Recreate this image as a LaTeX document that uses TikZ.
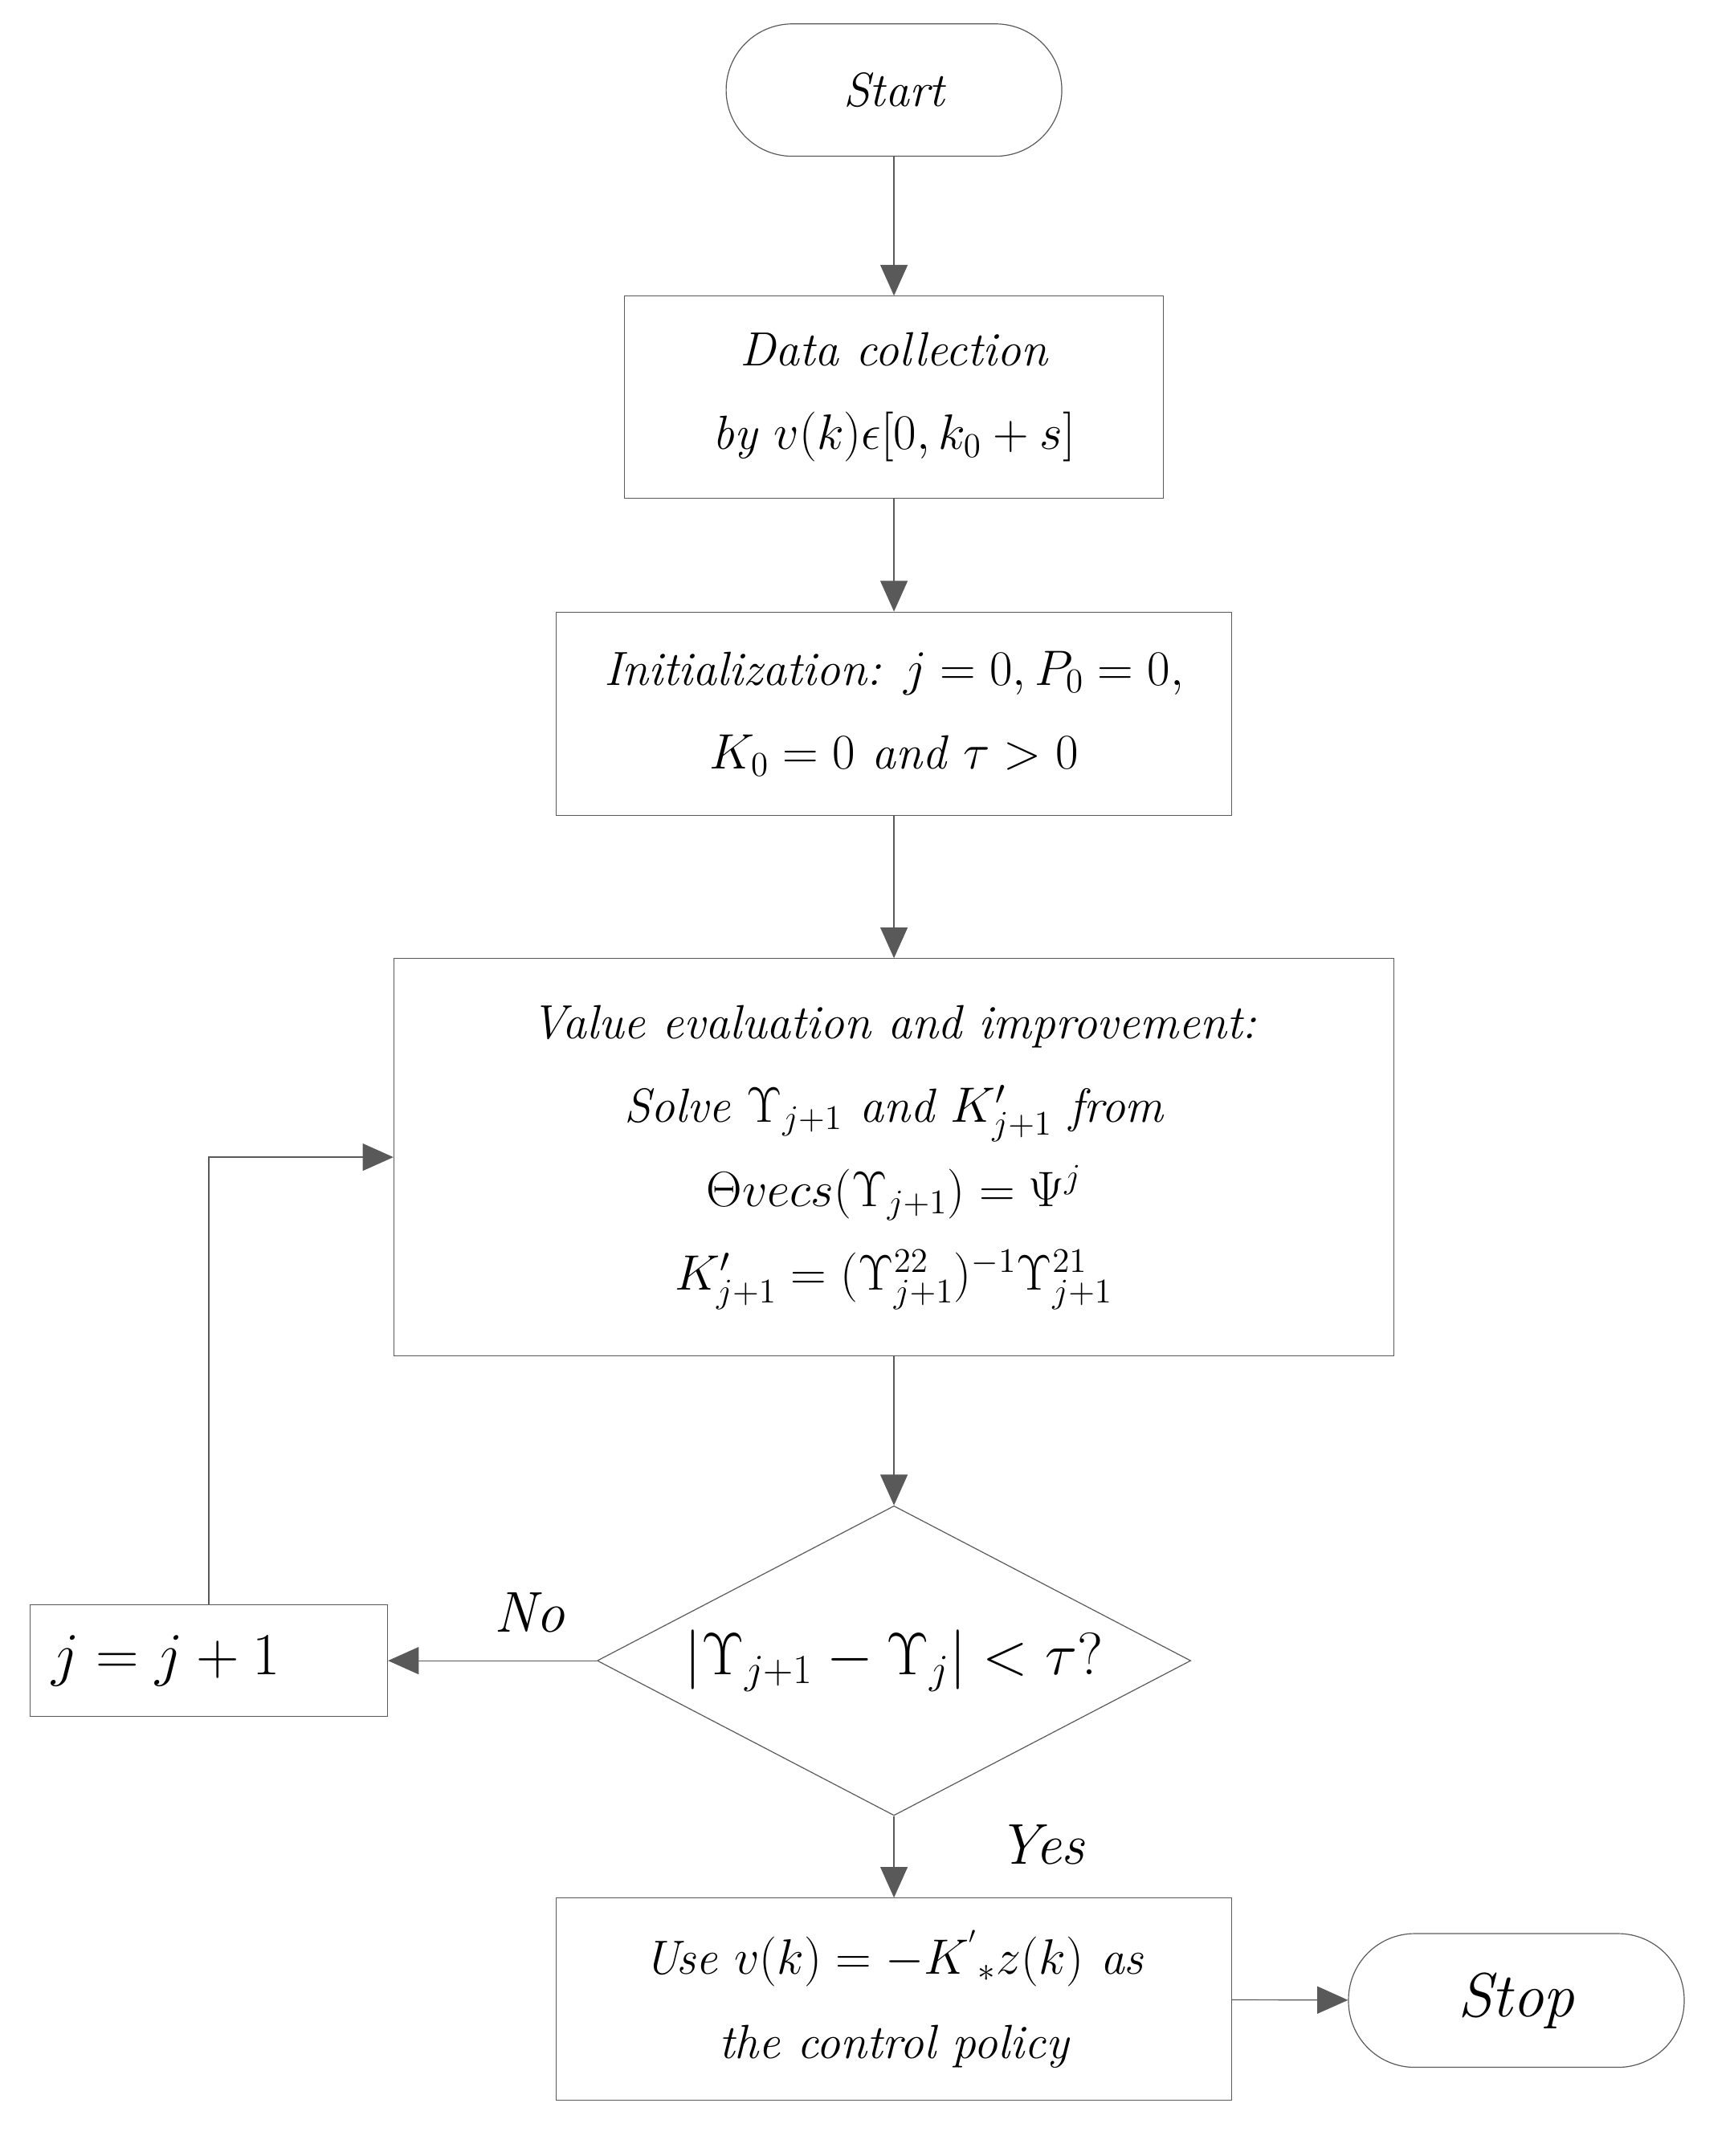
\documentclass[tikz,border=0pt]{standalone}
\usepackage{amsmath}
\usetikzlibrary{shapes.geometric,arrows.meta}
\begin{document}
\begin{tikzpicture}[x=0.02cm,y=-0.02cm,
box/.style={rectangle,draw=gray!70!black,thin,align=center,font=\fontsize{20}{35}\selectfont\itshape},
term/.style={box,rounded corners=0.97cm},
flow/.style={-{Triangle[length=0.45cm,width=0.4cm]},draw=gray!70!black,thin}]
\useasboundingbox (0,0) rectangle (1270,1580);
%Nodes
\node[term, minimum width=4.92cm, minimum height=1.94cm] (start) at (655,66) {Start};
\node[box, minimum width=7.9cm, minimum height=2.96cm] (data) at (655,291) {Data collection\\ by $v(k)\epsilon[0,k_0+s]$};
\node[box, minimum width=9.9cm, minimum height=2.98cm] (init) at (655,523) {Initialization: $j=0,P_0=0,$\\ $K_0=0$ and $\tau>0$};
\node[box, minimum width=14.66cm, minimum height=5.82cm] (value) at (655,848) {Value evaluation and improvement:\\ Solve $\Upsilon_{j+1}$ and $K'_{j+1}$ from\\ $\Theta vecs(\Upsilon_{j+1})=\Psi^j$\\ $K'_{j+1}=(\Upsilon^{22}_{j+1})^{-1}\Upsilon^{21}_{j+1}$};
\node[diamond, aspect=1.92, draw=gray!70!black, thin, inner sep=0pt, minimum width=8.7cm, minimum height=4.54cm, font=\fontsize{26}{30}\selectfont] (check) at (655,1217) {$\left|\Upsilon_{j+1}-\Upsilon_j\right|<\tau?$};
\node[box, minimum width=5.24cm, minimum height=1.64cm, font=\fontsize{24}{28}\selectfont, text width=4.6cm, align=left] (incr) at (153,1217) {$j=j+1$};
\node[box, minimum width=9.9cm, minimum height=2.96cm] (use) at (655,1465) {Use $v(k)=-K^{'}{}_{*}z(k)$ as\\ the control policy};
\node[term, minimum width=4.92cm, minimum height=1.96cm, font=\fontsize{26}{30}\selectfont\itshape] (stop) at (1111,1466) {Stop};
\node[font=\fontsize{24}{28}\selectfont\itshape] (no) at (388,1182) {No};
\node[font=\fontsize{24}{28}\selectfont\itshape] (yes) at (763,1352) {Yes};
\coordinate (bend) at (153,848);
%Connectors
\draw[flow] (start) -- (data);
\draw[flow] (data) -- (init);
\draw[flow] (init) -- (value);
\draw[flow] (value) -- (check);
\draw[flow] (check) -- (incr);
\draw[flow] (check) -- (use);
\draw[flow] (use) -- (stop);
\draw[flow] (incr.north) -- (bend) -- (value.west);
\end{tikzpicture}
\end{document}
